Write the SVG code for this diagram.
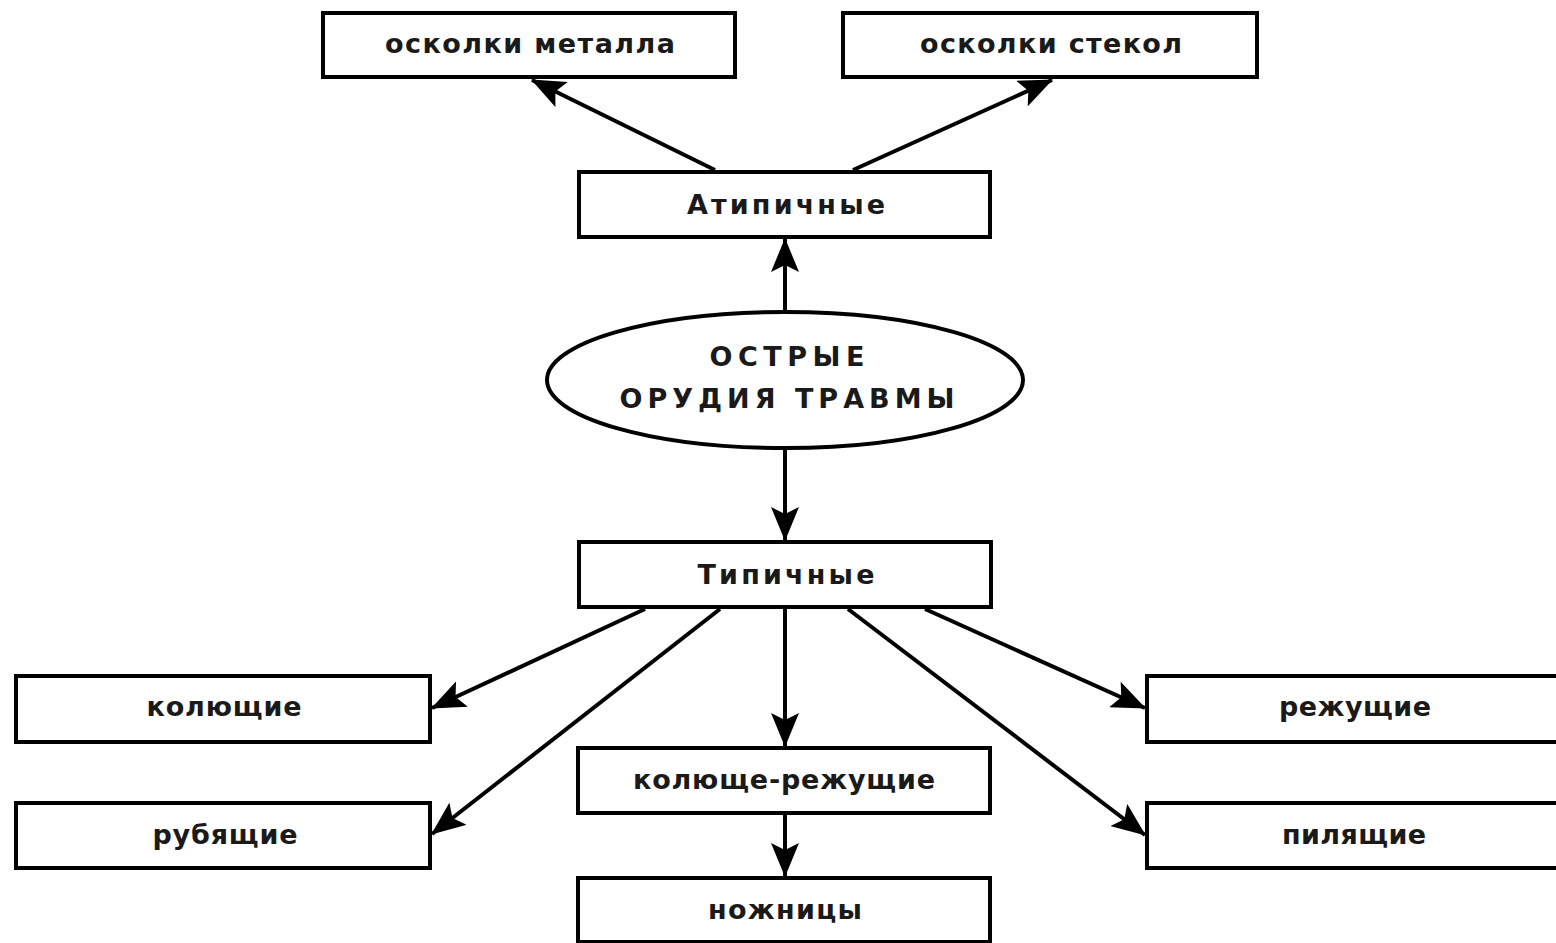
<svg xmlns="http://www.w3.org/2000/svg" width="1556" height="943" viewBox="0 0 1556 943">
<style>
.box{fill:#fff;stroke:#000;stroke-width:4}
.t{font-family:"DejaVu Sans","Liberation Sans",sans-serif;font-weight:bold;font-size:27px;fill:#1a1a1a;text-anchor:middle}
.c{stroke:#000;stroke-width:4;fill:none;marker-end:url(#ah)}
</style>
<defs>
<marker id="ah" viewBox="0 0 34 28" refX="33" refY="14" markerWidth="34" markerHeight="28" orient="auto" markerUnits="userSpaceOnUse">
<path d="M0,0 L34,14 L0,28 L7,14 z" fill="#000"/>
</marker>
</defs>
<rect width="1556" height="943" fill="#fff"/>
<g id="connectors">
<line class="c" x1="715" y1="170" x2="532" y2="80"/>
<line class="c" x1="853" y1="170" x2="1052" y2="80"/>
<line class="c" x1="785" y1="312" x2="785" y2="239"/>
<line class="c" x1="785" y1="448" x2="785" y2="540"/>
<line class="c" x1="645" y1="609" x2="432" y2="708"/>
<line class="c" x1="720" y1="609" x2="432" y2="834"/>
<line class="c" x1="785" y1="609" x2="785" y2="746"/>
<line class="c" x1="848" y1="609" x2="1145" y2="835"/>
<line class="c" x1="925" y1="609" x2="1145" y2="708"/>
<line class="c" x1="785" y1="813" x2="785" y2="876"/>
</g>
<g id="n-metal"><rect class="box" x="323" y="13" width="412" height="64"/><text class="t" x="530" y="53" textLength="290">осколки металла</text></g>
<g id="n-glass"><rect class="box" x="843" y="13" width="414" height="64"/><text class="t" x="1051" y="53" textLength="262">осколки стекол</text></g>
<g id="n-atyp"><rect class="box" x="579" y="172" width="411" height="65"/><text class="t" x="786" y="214" textLength="198">Атипичные</text></g>
<g id="n-root"><ellipse class="box" cx="785" cy="380" rx="238" ry="68"/><text class="t" x="787" y="366" font-size="31" textLength="155">ОСТРЫЕ</text><text class="t" x="787" y="408" font-size="31" textLength="335">ОРУДИЯ ТРАВМЫ</text></g>
<g id="n-typ"><rect class="box" x="579" y="542" width="412" height="65"/><text class="t" x="786" y="584" textLength="177">Типичные</text></g>
<g id="n-kol"><rect class="box" x="16" y="676" width="414" height="66"/><text class="t" x="224" y="716" textLength="155">колющие</text></g>
<g id="n-rub"><rect class="box" x="16" y="803" width="414" height="65"/><text class="t" x="225" y="844" textLength="145">рубящие</text></g>
<g id="n-kolrez"><rect class="box" x="578" y="748" width="412" height="65"/><text class="t" x="784" y="789" textLength="302">колюще-режущие</text></g>
<g id="n-nozh"><rect class="box" x="578" y="878" width="412" height="64"/><text class="t" x="785" y="919" textLength="154">ножницы</text></g>
<g id="n-rez"><rect class="box" x="1147" y="676" width="420" height="66"/><text class="t" x="1355" y="716" textLength="152">режущие</text></g>
<g id="n-pil"><rect class="box" x="1147" y="803" width="420" height="65"/><text class="t" x="1354" y="844" textLength="144">пилящие</text></g>
</svg>
